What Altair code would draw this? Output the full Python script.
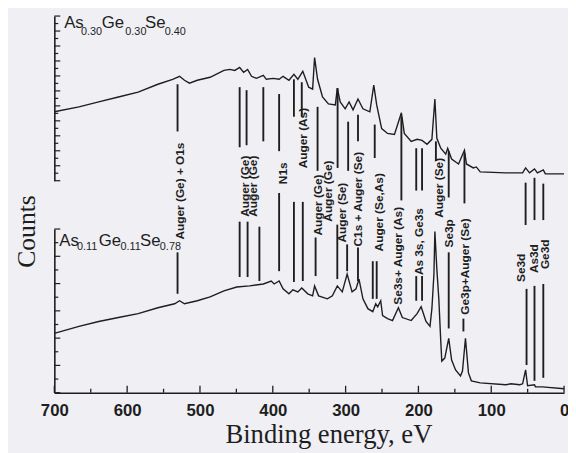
import altair as alt
import pandas as pd

# ---------------- data ----------------
# Upper spectrum: As0.30Ge0.30Se0.40 (binding energy eV, counts in upper-panel tick units)
upper_E = [700, 666.2, 639.1, 612, 584.9, 557.8, 537.5, 528, 521.3, 514.5, 503.7, 486.1, 467.1, 459,
           452.2, 445.5, 440, 434.6, 429.2, 422.5, 413, 408.9, 399.4, 391.3, 385.9, 377.8, 371, 365.6,
           358.8, 350.7, 345.3, 342.6, 338.5, 331.7, 323.6, 314.1, 311.4, 307.4, 300.6, 295.2, 289.8,
           283, 276.2, 266.7, 261.3, 257.3, 250.5, 242.4, 232.9, 223.4, 219.4, 209.9, 201.8, 195,
           188.2, 181.5, 177.4, 174.7, 169.3, 162.5, 159.8, 154.4, 144.9, 136.8, 134.1, 124.6, 120.5,
           115.1, 79.9, 56.9, 52.8, 47.4, 40.6, 36.6, 28.5, 25.7, 0]
upper_I = [9.21, 9.87, 10.53, 11.18, 11.84, 12.89, 13.55, 13.95, 13.42, 13.03, 13.42, 13.82, 14.74, 14.87,
           14.74, 15.13, 14.47, 14.87, 13.95, 13.68, 14.08, 13.55, 13.68, 13.55, 13.95, 13.42, 14.21, 13.55,
           14.61, 12.5, 12.24, 16.45, 13.55, 11.18, 10.26, 10.13, 12.37, 10.53, 9.61, 10.53, 9.47,
           10.92, 9.61, 9.21, 12.76, 10.13, 6.97, 6.32, 6.18, 9.08, 6.32, 5.26, 5.53, 5.39,
           4.87, 5.53, 10.92, 5.66, 4.34, 3.55, 4.34, 2.89, 2.24, 4.08, 2.24, 1.71, 1.84,
           1.18, 1.05, 1.05, 1.71, 1.05, 1.58, 1.05, 1.45, 0.92, 0.92]

# Lower spectrum: As0.11Ge0.11Se0.78 (counts in lower-panel tick units)
lower_E = [700, 666.2, 639.1, 612, 584.9, 557.8, 534.8, 528, 521.3, 503.7, 486.1, 467.1, 449.5, 431.9,
           413, 402.1, 398.1, 391.3, 385.9, 377.8, 372.4, 365.6, 360.2, 352, 345.3, 342.6, 337.1, 325,
           318.2, 311.4, 304.6, 297.9, 291.1, 285.7, 281.6, 276.2, 269.4, 262.7, 258.6, 255.9, 251.8,
           249.2, 242.4, 235.6, 227.5, 222.1, 209.9, 201.8, 196.3, 189.6, 184.1, 181.5, 178.7, 177.4,
           174.7, 172, 169.3, 167.9, 163.8, 158.4, 154.4, 149, 142.2, 139.5, 135.4, 131.3, 127.3,
           115.1, 79.9, 73.1, 60.9, 56.9, 52.8, 50.1, 40.6, 39.3, 29.8, 0]
lower_I = [4.35, 4.86, 5.22, 5.51, 5.80, 6.23, 6.52, 6.74, 6.52, 6.74, 7.03, 7.46, 7.75, 7.83,
           7.97, 8.19, 7.97, 8.19, 7.61, 7.25, 7.54, 7.39, 7.68, 7.25, 7.10, 7.83, 7.10, 6.88,
           7.10, 7.83, 7.39, 8.70, 7.39, 7.61, 8.33, 6.88, 6.16, 5.94, 6.52, 6.30, 6.74,
           5.65, 5.43, 5.29, 6.23, 5.51, 5.29, 5.80, 6.30, 5.22, 4.86, 6.16, 8.70, 11.81,
           9.06, 6.88, 3.77, 2.32, 2.54, 3.99, 2.39, 1.67, 1.23, 1.59, 3.99, 1.45, 0.87,
           0.72, 0.58, 0.65, 0.58, 0.65, 1.67, 0.51, 0.58, 0.43, 0.43, 0.29]

# Peak labels (text, energy, lower end of the text in lower-panel units)
label_text = ["Auger (Ge) + O1s", "Auger (Ge)", "Auger (Ge)", "N1s", "Auger (As)", "Auger (Ge)",
              "Auger (Ge)", "Auger (Se)", "C1s + Auger (Se)", "Auger (Se,As)", "Se3s+ Auger (As)",
              "As 3s, Ge3s", "Auger (Se)", "Se3p", "Ge3p+Auger (Se)", "Se3d", "As3d", "Ge3d"]
label_E = [526.7, 438.7, 426.5, 385.9, 358.8, 338.5, 323.6, 304.6, 283.0, 254.5, 227.5,
           199.0, 172.0, 158.4, 135.4, 59.6, 40.6, 25.7]
label_base = [11.23, 12.9, 12.9, 15.29, 16.45, 11.52, 12.54, 11.01, 10.72, 10.36, 6.45,
              8.62, 12.83, 10.65, 5.72, 8.12, 8.77, 9.06]

# Marker lines hanging from the upper spectrum (upper-panel units)
uline_E = [530.8, 445.5, 436.0, 413.0, 391.3, 371.0, 360.2, 338.5, 311.0, 296.5, 283.0, 260.0,
           223.4, 203.0, 195.0, 176.0, 158.4, 136.8, 52.8, 40.6, 28.5]
uline_top = [12.89, 12.5, 12.1, 12.5, 11.58, 13.55, 13.16, 9.87, 12.37, 7.89, 8.82, 7.5,
             8.55, 4.34, 4.34, 5.26, 3.95, 3.68, -0.26, 0.39, -0.39]
uline_bot = [6.58, 4.47, 4.74, 5.26, 3.95, 8.55, 8.55, 1.32, 1.71, 1.32, 5.26, 3.03,
             -2.63, -1.32, -1.32, 2.63, -2.24, -3.03, -5.92, -5.26, -5.26]

# Marker lines rising from the lower spectrum (lower-panel units)
lline_E = [530.8, 445.5, 434.6, 418.4, 391.3, 371.0, 358.8, 341.2, 311.4, 297.9, 283.0, 262.7,
           257.3, 203.0, 195.0, 158.4, 138.2, 51.5, 40.6, 28.5]
lline_top = [10.29, 12.54, 12.54, 12.17, 14.64, 13.99, 13.99, 11.38, 12.32, 10.87, 10.65, 9.64,
             9.64, 8.55, 8.55, 10.29, 5.43, 7.61, 7.83, 7.97]
lline_bot = [7.25, 8.48, 8.48, 8.19, 8.91, 8.12, 8.19, 8.55, 8.33, 8.91, 8.19, 6.88,
             6.88, 6.74, 6.74, 4.71, 4.49, 2.03, 0.87, 1.09]

# Sample formulas (main letters and subscripts)
up_main_text = ["As", "Ge", "Se"]
up_main_E = [686.5, 635.0, 575.4]
up_sub_text = ["0.30", "0.30", "0.40"]
up_sub_E = [663.4, 602.5, 548.4]
up_main_y, up_sub_y = 20.39, 19.47
lo_main_text = ["As", "Ge", "Se"]
lo_main_E = [693.2, 639.1, 582.2]
lo_sub_text = ["0.11", "0.11", "0.78"]
lo_sub_E = [668.9, 609.3, 555.1]
lo_main_y, lo_sub_y = 10.72, 10.43

# Axis ticks
x_major = [700, 600, 500, 400, 300, 200, 100, 0]
x_minor = [650, 550, 450, 350, 250, 150, 50]
up_ticks_major = [0, 2, 4, 6, 8, 10, 12, 14, 16, 18, 20, 22]
up_ticks_minor = [1, 3, 5, 7, 9, 11, 13, 15, 17, 19, 21]
lo_ticks_major = [0, 2, 4, 6, 8, 10, 12]
lo_ticks_minor = [1, 3, 5, 7, 9, 11]

# ---------------- chart ----------------
W, H = 517, 382
INK = "#1e1e1e"
BG = "#efeff4"

xscale = alt.Scale(domain=[700, 0], nice=False)
xaxis = alt.Axis(values=x_major, format="d", labelFont="Liberation Sans", labelFontSize=17,
                 labelFontWeight="bold", labelColor=INK, labelPadding=10, labelFlush=False,
                 labelOverlap=False, ticks=False, tickSize=0, grid=False, domain=True,
                 domainColor=INK, domainWidth=1.6, title="Binding energy, eV",
                 titleFont="Liberation Serif", titleFontSize=27, titleFontWeight="normal",
                 titleColor=INK, titlePadding=4, titleX=278)


def X(field):
    return alt.X(f"{field}:Q", scale=xscale, axis=xaxis)


uscale = alt.Scale(domain=[0, 22], range=[167, 0], nice=False, zero=False)
uaxis = alt.Axis(orient="left", domain=True, domainColor=INK, domainWidth=1.6, ticks=False,
                 labels=False, grid=False, title=None)
lscale = alt.Scale(domain=[0, 12], range=[382, 216], nice=False, zero=False)
laxis = alt.Axis(orient="left", domain=True, domainColor=INK, domainWidth=1.6, ticks=False,
                 labels=False, grid=False, title="Counts", titleFont="Liberation Serif",
                 titleFontSize=26, titleFontWeight="normal", titleColor=INK, titleX=-15,
                 titleY=218, titleAngle=270, titleBaseline="bottom", titleAlign="center")


def UY(field):
    return alt.Y(f"{field}:Q", scale=uscale, axis=uaxis)


def LY(field):
    return alt.Y(f"{field}:Q", scale=lscale, axis=laxis)


df_up = pd.DataFrame({"E": upper_E, "y": upper_I})
df_lo = pd.DataFrame({"E": lower_E, "y": lower_I})
df_ul = pd.DataFrame({"E": uline_E, "y": uline_top, "y2": uline_bot})
df_ll = pd.DataFrame({"E": lline_E, "y": lline_top, "y2": lline_bot})
df_lab = pd.DataFrame({"E": label_E, "y": label_base, "t": label_text})

# upper panel layers
u_line = alt.Chart(df_up).mark_line(color=INK, strokeWidth=1.4).encode(x=X("E"), y=UY("y"))
u_marks = alt.Chart(df_ul).mark_rule(color=INK, strokeWidth=1.9).encode(
    x=X("E"), y=UY("y"), y2="y2:Q")
u_tmaj = alt.Chart(pd.DataFrame({"y": up_ticks_major})).mark_rule(color=INK, strokeWidth=1.2).encode(
    x=alt.value(0), x2=alt.value(6), y=UY("y"))
u_tmin = alt.Chart(pd.DataFrame({"y": up_ticks_minor})).mark_rule(color=INK, strokeWidth=1.2).encode(
    x=alt.value(0), x2=alt.value(4), y=UY("y"))
u_main = alt.Chart(pd.DataFrame({"E": up_main_E, "y": [up_main_y] * 3, "t": up_main_text})).mark_text(
    font="Liberation Sans", fontSize=17, align="left", baseline="alphabetic", color=INK).encode(
    x=X("E"), y=UY("y"), text="t:N")
u_sub = alt.Chart(pd.DataFrame({"E": up_sub_E, "y": [up_sub_y] * 3, "t": up_sub_text})).mark_text(
    font="Liberation Sans", fontSize=11, align="left", baseline="alphabetic", color=INK).encode(
    x=X("E"), y=UY("y"), text="t:N")
upper = alt.layer(u_line, u_marks, u_tmaj, u_tmin, u_main, u_sub)

# lower panel layers
l_line = alt.Chart(df_lo).mark_line(color=INK, strokeWidth=1.4).encode(x=X("E"), y=LY("y"))
l_marks = alt.Chart(df_ll).mark_rule(color=INK, strokeWidth=1.9).encode(
    x=X("E"), y=LY("y"), y2="y2:Q")
l_tmaj = alt.Chart(pd.DataFrame({"y": lo_ticks_major})).mark_rule(color=INK, strokeWidth=1.2).encode(
    x=alt.value(0), x2=alt.value(6), y=LY("y"))
l_tmin = alt.Chart(pd.DataFrame({"y": lo_ticks_minor})).mark_rule(color=INK, strokeWidth=1.2).encode(
    x=alt.value(0), x2=alt.value(4), y=LY("y"))
l_main = alt.Chart(pd.DataFrame({"E": lo_main_E, "y": [lo_main_y] * 3, "t": lo_main_text})).mark_text(
    font="Liberation Sans", fontSize=17, align="left", baseline="alphabetic", color=INK).encode(
    x=X("E"), y=LY("y"), text="t:N")
l_sub = alt.Chart(pd.DataFrame({"E": lo_sub_E, "y": [lo_sub_y] * 3, "t": lo_sub_text})).mark_text(
    font="Liberation Sans", fontSize=11, align="left", baseline="alphabetic", color=INK).encode(
    x=X("E"), y=LY("y"), text="t:N")
labels = alt.Chart(df_lab).mark_text(font="Liberation Sans", fontSize=12, fontWeight="bold",
                                     angle=270, align="left", baseline="middle", color=INK).encode(
    x=X("E"), y=LY("y"), text="t:N")
x_tmaj = alt.Chart(pd.DataFrame({"E": x_major})).mark_rule(color=INK, strokeWidth=1.3).encode(
    x=X("E"), y=alt.value(H), y2=alt.value(H - 7))
x_tmin = alt.Chart(pd.DataFrame({"E": x_minor})).mark_rule(color=INK, strokeWidth=1.3).encode(
    x=X("E"), y=alt.value(H), y2=alt.value(H - 4))
lower = alt.layer(l_line, l_marks, l_tmaj, l_tmin, l_main, l_sub, labels, x_tmaj, x_tmin)

chart = alt.layer(upper, lower).resolve_scale(y="independent").properties(
    width=W, height=H,
    autosize=alt.AutoSizeParams(type="none"),
    padding={"left": 47, "top": 5, "right": 4, "bottom": 58},
    background=BG,
).configure_view(stroke=None)

chart.save("out.html", embed_options={"renderer": "svg", "actions": False})
